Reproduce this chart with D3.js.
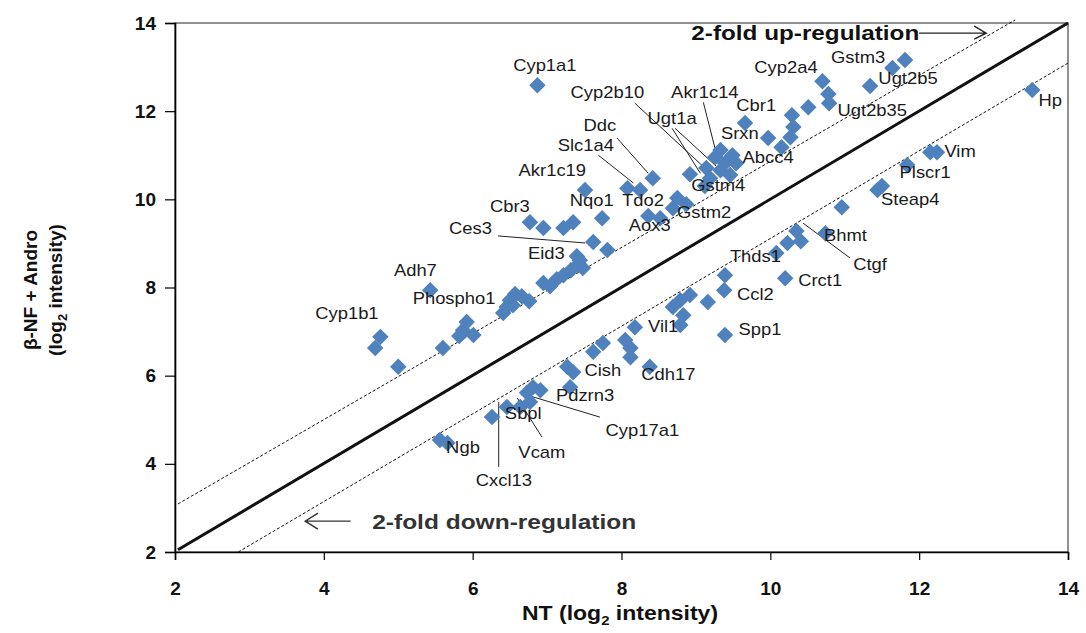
<!DOCTYPE html>
<html><head><meta charset="utf-8">
<script src="https://cdn.jsdelivr.net/npm/d3@7"></script>
<style>body{margin:0;background:#fff}svg{display:block;font-family:"Liberation Sans",Arial,sans-serif}</style>
</head><body><svg id="c" width="1086" height="633"></svg>
<script>
// NT (x) and β-NF + Andro (y) log2 intensities, one entry per gene spot
const ntValues = [6.87,4.76,4.69,5.00,5.43,5.92,5.87,6.01,5.82,5.60,6.41,6.46,6.50,6.57,6.66,6.76,6.54,6.95,7.04,7.13,7.22,7.32,7.42,7.48,7.40,7.44,7.62,7.81,6.77,6.95,7.22,7.35,7.74,7.51,8.08,8.25,8.42,8.36,8.52,8.75,8.87,8.69,9.33,9.49,9.26,9.39,9.54,9.14,9.33,9.46,9.19,8.92,9.12,9.66,10.70,10.78,10.79,10.51,10.29,10.31,10.27,9.97,10.15,11.81,11.64,11.34,13.52,
  12.15,12.24,11.84,11.44,11.50,10.96,10.74,10.35,10.23,10.41,10.08,10.20,9.39,9.38,9.16,8.92,8.79,8.69,8.83,8.79,9.39,8.18,8.05,8.12,8.12,7.75,7.62,8.38,7.27,7.35,7.31,6.81,6.91,6.73,6.77,6.64,6.46,6.26,5.56,5.66];
const bnfValues = [12.59,6.88,6.63,6.20,7.94,7.22,7.03,6.92,6.90,6.63,7.42,7.56,7.71,7.85,7.80,7.69,7.60,8.10,8.03,8.19,8.28,8.39,8.53,8.44,8.71,8.62,9.03,8.85,9.48,9.35,9.35,9.48,9.57,10.21,10.25,10.21,10.48,9.62,9.57,10.03,9.89,9.80,11.12,11.00,10.96,10.82,10.82,10.71,10.66,10.55,10.48,10.57,10.30,11.73,12.68,12.39,12.18,12.09,11.91,11.64,11.41,11.39,11.18,13.16,12.98,12.57,12.48,
  11.07,11.07,10.78,10.21,10.30,9.82,9.23,9.28,9.01,9.05,8.78,8.21,8.28,7.94,7.67,7.83,7.71,7.56,7.37,7.15,6.92,7.10,6.81,6.63,6.42,6.74,6.54,6.20,6.20,6.08,5.74,5.74,5.67,5.61,5.40,5.29,5.29,5.06,4.54,4.47];

const tickValues = [2,4,6,8,10,12,14];
const xTitle = "NT (log", yTitle1 = "β-NF + Andro", yTitle2 = "(log";

// gene label text and anchor (data units)
const labelNames = ["Cyp1a1","Cyp2b10","Akr1c14","Cyp2a4","Gstm3","Ugt2b5","Cbr1","Ugt1a","Srxn","Ugt2b35","Hp","Ddc","Abcc4","Slc1a4","Gstm4","Akr1c19","Nqo1","Tdo2","Gstm2","Cbr3","Ces3","Aox3","Eid3","Adh7","Phospho1","Cyp1b1",
  "Vim","Plscr1","Steap4","Bhmt","Ctgf","Thds1","Crct1","Ccl2","Spp1","Vil1","Cish","Cdh17","Pdzrn3","Cyp17a1","Sbpl","Vcam","Ngb","Cxcl13"];
const labelNT = [6.97,7.81,9.12,10.21,11.18,11.85,9.81,8.68,9.59,11.37,13.76,7.71,9.97,7.52,9.30,7.07,7.60,8.29,9.11,6.50,5.97,8.38,6.99,5.23,5.75,4.31,
  12.55,12.08,11.88,11.01,11.34,9.80,10.67,9.80,9.86,8.56,7.75,8.63,7.51,8.28,6.68,6.93,5.87,6.42];
const labelBNF = [13.04,12.43,12.43,13.0,13.22,12.75,12.14,11.84,11.50,12.02,12.25,11.68,10.96,11.23,10.32,10.66,9.98,9.98,9.71,9.85,9.35,9.41,8.78,8.39,7.76,7.42,
  11.09,10.62,10.0,9.19,8.53,8.71,8.17,7.85,7.06,7.12,6.13,6.04,5.56,4.77,5.15,4.27,4.38,3.63];

// leader lines (data units): x1,y1,x2,y2
const leaderX1 = [8.18,8.68,8.72,9.10,7.94,7.69,6.34,10.44,6.35,6.60,6.73];
const leaderY1 = [12.18,11.61,11.61,12.20,11.39,11.00,9.17,9.46,5.40,5.49,5.56];
const leaderX2 = [9.12,9.06,9.30,9.27,8.36,8.16,7.51,11.07,6.35,6.93,7.71];
const leaderY2 = [10.71,10.59,10.71,11.07,10.59,10.37,9.01,8.67,3.93,4.61,5.06];

// reference lines: equality and 2-fold bounds
const refLines = [
  {x1:2.04,y1:2.05,x2:14,y2:14,w:3,dash:null},
  {x1:2.04,y1:3.09,x2:13.29,y2:14.07,w:1,dash:"3,2"},
  {x1:2.85,y1:2.0,x2:14,y2:13.09,w:1,dash:"3,2"}
];

const svg = d3.select("#c");
const L=175,R=1068,T=23,B=552;
const x = d3.scaleLinear().domain([2,14]).range([L,R]);
const y = d3.scaleLinear().domain([2,14]).range([B,T]);
const SX = 1.15;

svg.append("rect").attr("x",L).attr("y",T).attr("width",R-L).attr("height",B-T)
  .attr("fill","none").attr("stroke","#222").attr("stroke-width",1);

refLines.forEach(l=>{
  svg.append("line").attr("x1",x(l.x1)).attr("y1",y(l.y1)).attr("x2",x(l.x2)).attr("y2",y(l.y2))
    .attr("stroke","#111").attr("stroke-width",l.w).attr("stroke-dasharray",l.dash);
});

// axes
const xa = svg.append("g").attr("transform",`translate(0,${B})`)
  .call(d3.axisBottom(x).tickValues(tickValues).tickSize(8).tickPadding(22).tickFormat(d3.format("d")));
const ya = svg.append("g").attr("transform",`translate(${L},0)`)
  .call(d3.axisLeft(y).tickValues(tickValues).tickSize(10).tickPadding(9).tickFormat(d3.format("d")));
[xa,ya].forEach(a=>{
  a.select(".domain").attr("stroke","#000").attr("stroke-width",1.6);
  a.selectAll(".tick line").attr("stroke","#000").attr("stroke-width",1.2);
  a.selectAll(".tick text").attr("font-size",19).attr("font-weight","bold").attr("fill","#111")
   .attr("font-family","'Liberation Sans',Arial,sans-serif");
});

// leader lines
leaderX1.forEach((v,i)=>{
  svg.append("line").attr("x1",x(v)).attr("y1",y(leaderY1[i])).attr("x2",x(leaderX2[i])).attr("y2",y(leaderY2[i]))
    .attr("stroke","#222").attr("stroke-width",1);
});

// points
const diamond = d3.symbol().type(d3.symbolSquare).size(136)();
svg.append("g").selectAll("path").data(ntValues).join("path")
  .attr("d",diamond)
  .attr("transform",(d,i)=>`translate(${x(d)},${y(bnfValues[i])}) rotate(45)`)
  .attr("fill","#4F81BD");

// gene labels
labelNames.forEach((n,i)=>{
  svg.append("g").attr("transform",`translate(${x(labelNT[i])},${y(labelBNF[i])}) scale(${SX},1)`)
    .append("text").attr("text-anchor","middle").attr("dy","0.36em")
    .attr("font-size",16).attr("fill","#1a1a1a").text(n);
});

// fold annotations
svg.append("text").attr("x",x(10.47)).attr("y",y(13.77)).attr("dy","0.36em").attr("text-anchor","middle")
  .attr("font-size",20).attr("font-weight","bold").attr("textLength",228).attr("lengthAdjust","spacingAndGlyphs")
  .attr("fill","#111").text("2-fold up-regulation");
const ay = y(13.77);
svg.append("path").attr("d",`M${x(12.0)},${ay}H${x(12.9)}M${x(12.74)},${ay-7}L${x(12.9)},${ay}L${x(12.74)},${ay+6}`)
  .attr("fill","none").attr("stroke","#222").attr("stroke-width",1.4);

const dy = y(2.7);
svg.append("text").attr("x",x(4.65)).attr("y",dy).attr("dy","0.36em").attr("text-anchor","start")
  .attr("font-size",21).attr("font-weight","bold").attr("textLength",264).attr("lengthAdjust","spacingAndGlyphs")
  .attr("fill","#333").text("2-fold down-regulation");
svg.append("path").attr("d",`M${x(4.36)},${dy}H${x(3.75)}M${x(3.92)},${dy-8}L${x(3.75)},${dy}L${x(3.92)},${dy+8}`)
  .attr("fill","none").attr("stroke","#333").attr("stroke-width",1.4);

// axis titles
const xt = svg.append("g").attr("transform",`translate(620,620) scale(${SX},1)`)
  .append("text").attr("text-anchor","middle").attr("font-size",20).attr("font-weight","bold").attr("fill","#111");
xt.append("tspan").text(xTitle);
xt.append("tspan").attr("font-size",13).attr("dy",5).text("2");
xt.append("tspan").attr("dy",-5).text(" intensity)");

const yt = svg.append("g").attr("transform","translate(0,290) rotate(-90)");
yt.append("text").attr("x",0).attr("y",37).attr("text-anchor","middle").attr("font-size",19)
  .attr("font-weight","bold").attr("fill","#111").text(yTitle1);
const y2 = yt.append("text").attr("x",0).attr("y",62).attr("text-anchor","middle").attr("font-size",19)
  .attr("font-weight","bold").attr("fill","#111");
y2.append("tspan").text(yTitle2);
y2.append("tspan").attr("font-size",13).attr("dy",5).text("2");
y2.append("tspan").attr("dy",-5).text(" intensity)");
</script></body></html>
